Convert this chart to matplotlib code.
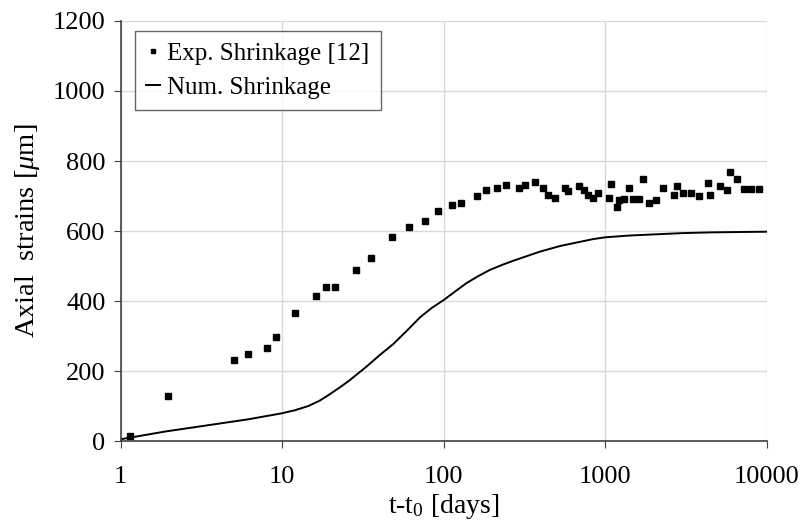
import matplotlib
matplotlib.use("Agg")
import matplotlib.pyplot as plt

plt.rcParams['font.family'] = ['Liberation Serif', 'DejaVu Serif']
plt.rcParams['mathtext.fontset'] = 'custom'
plt.rcParams['mathtext.rm'] = 'Liberation Serif'
plt.rcParams['mathtext.it'] = 'Liberation Serif:italic'

# Experimental shrinkage [12]
exp_t = [1.14, 1.95, 5.03, 6.16, 8.0, 9.1, 12.0, 16.1, 18.6, 21.2, 28.7, 35.4, 47.5,
         61.1, 76.0, 92.3, 113, 127, 161, 183, 212, 243, 292, 316, 368, 411, 441,
         489, 562, 589, 689, 736, 776, 841, 895, 1052, 1082, 1178, 1218, 1302,
         1398, 1473, 1604, 1713, 1849, 2054, 2279, 2667, 2760, 3033, 3367, 3808,
         4310, 4454, 5116, 5678, 5870, 6516, 7165, 7985, 8913]
exp_eps = [15, 129, 232, 248, 265, 298, 365, 413, 441, 439, 489, 523, 582,
           612, 628, 658, 674, 679, 701, 717, 722, 731, 722, 731, 739, 722, 702,
           694, 722, 715, 729, 717, 703, 693, 708, 693, 735, 668, 689, 691,
           722, 691, 691, 749, 679, 688, 722, 702, 729, 708, 708, 700,
           738, 702, 729, 716, 768, 749, 721, 721, 721]

# Numerical shrinkage
num_t = [1.0, 1.88, 3.83, 6.16, 9.9, 12.0, 14.5, 17.0, 19.3, 23.0, 26.2, 33.3, 40.0,
         48.6, 59.0, 71.1, 84.0, 100, 118, 138, 163, 193, 229, 269, 330, 393, 523,
         695, 841, 1000, 1400, 2159, 3000, 4454, 6500, 10000]
num_eps = [5, 27, 48, 62, 79, 88, 100, 115, 131, 155, 174, 213, 245,
           277, 315, 353, 380, 403, 428, 451, 471, 489, 503, 515, 529, 541, 557,
           569, 577, 582, 587, 591, 594, 596, 597, 598]

fig = plt.figure(figsize=(8.05, 5.26), dpi=100)
ax = fig.add_axes([120.7/805, 1 - 441/526, (767 - 120.7)/805, (441 - 21)/526])

ax.plot(exp_t, exp_eps, linestyle='none', marker='s', markersize=4.5,
        color='black', label='Exp. Shrinkage [12]')
ax.plot(num_t, num_eps, color='black', linewidth=1.4, label='Num. Shrinkage')

ax.set_xscale('log')
ax.set_xlim(1, 10000)
ax.set_ylim(0, 1200)
ax.set_yticks(range(0, 1201, 200))
ax.set_xticks([1, 10, 100, 1000, 10000])
ax.set_xticklabels(['1', '10', '100', '1000', '10000'])
ax.minorticks_off()
ax.grid(True, color='#d9d9d9', linewidth=1)
ax.set_axisbelow(True)

for s in ['top', 'right']:
    ax.spines[s].set_visible(False)
for s in ['left', 'bottom']:
    ax.spines[s].set_color('#404040')
    ax.spines[s].set_linewidth(1.2)

ax.tick_params(axis='both', labelsize=19, direction='out', length=5, color='#404040')
ax.tick_params(axis='x', pad=13)
ax.tick_params(axis='y', pad=6)

ax.set_xlabel('t-t$_0$ [days]', fontsize=20, labelpad=3)
ax.set_ylabel('Axial  strains [$\\mu$m]', fontsize=20.5, labelpad=8)

leg = ax.legend(loc='upper left', bbox_to_anchor=(0.022, 0.976), fontsize=18,
                frameon=True, fancybox=False, edgecolor='#404040',
                handlelength=0.55, handletextpad=0.3, borderpad=0.45,
                markerscale=0.75, labelspacing=0.45, borderaxespad=0)
leg.get_frame().set_linewidth(1.0)

fig.savefig('out.png', dpi=100)
